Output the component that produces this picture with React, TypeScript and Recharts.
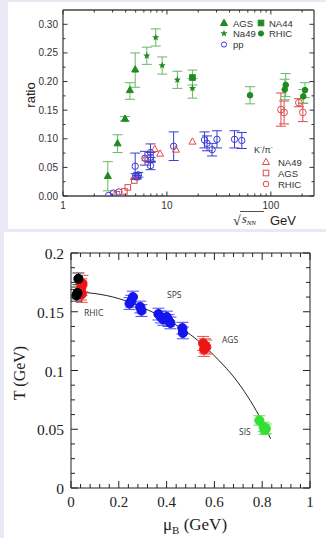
import React from 'react'
import {
  ScatterChart,
  ComposedChart,
  Scatter,
  Line,
  XAxis,
  YAxis,
  ErrorBar,
  ReferenceLine,
} from 'recharts'

const BG = '#e8e9f4'
const INK = '#333'
const SANS = '"Liberation Sans", Arial, sans-serif'
const SERIF = '"Liberation Serif", "Times New Roman", serif'

// ---------- upper panel: kaon / pion ratio vs sqrt(s_NN)
const xTicksTop = [1, 2, 3, 4, 5, 6, 7, 8, 9, 10, 20, 30, 40, 50, 60, 70, 80, 90, 100, 200]
const xMajorTop = [1, 10, 100]
const yTicksTop = [0, 0.025, 0.05, 0.075, 0.1, 0.125, 0.15, 0.175, 0.2, 0.225, 0.25, 0.275, 0.3]
const yLabelsTop = ['0.00', '0.05', '0.10', '0.15', '0.20', '0.25', '0.30']

// K+/pi+ (green)
const agsX = [2.7, 3.35, 3.95, 4.4, 4.95]
const agsY = [0.035, 0.092, 0.135, 0.185, 0.221]
const agsE = [[0.026, 0.025], [0.016, 0.015], [0.004, 0.004], [0.016, 0.013], [0.031, 0.029]]

const na49X = [6.4, 7.8, 9.0, 12.6, 17.6]
const na49Y = [0.245, 0.277, 0.228, 0.203, 0.188]
const na49E = [0.015, 0.015, 0.015, 0.015, 0.017]

const na44X = [17.6]
const na44Y = [0.207]
const na44E = [0.013]

const rhicX = [63, 136, 139, 205, 213]
const rhicY = [0.176, 0.186, 0.194, 0.174, 0.185]
const rhicE = [0.015, 0.018, 0.02, 0.012, 0.013]

// pp (blue)
const ppX = [2.75, 3.05, 3.45, 4.95, 5.0, 5.15, 5.3, 6.15, 6.95, 6.95, 6.95, 6.95, 11.6, 23, 24.3, 27.2, 30.3, 44.7, 52.5]
const ppY = [0.001, 0.005, 0.007, 0.052, 0.035, 0.033, 0.037, 0.066, 0.076, 0.068, 0.063, 0.053, 0.087, 0.098, 0.092, 0.081, 0.099, 0.099, 0.097]
const ppE = [0, 0, 0, 0.023, 0.004, 0.003, 0.004, 0.012, 0.015, 0.008, 0.004, 0.007, 0.025, 0.014, 0.013, 0.011, 0.015, 0.015, 0.014]

// K-/pi- (red)
const kmNa49X = [6.2, 7.65, 8.6, 12.2, 17.6]
const kmNa49Y = [0.066, 0.082, 0.074, 0.081, 0.095]
const kmAgsX = [3.3, 3.9, 4.2, 4.85]
const kmAgsY = [0.003, 0.008, 0.015, 0.027]
const kmRhicX = [125, 134, 186, 203]
const kmRhicY = [0.151, 0.146, 0.163, 0.146]
const kmRhicE = [0.029, 0.02, 0.007, 0.016]

// ---------- lower panel: freeze-out T vs mu_B
const xTicksBot = [0, 0.04, 0.08, 0.12, 0.16, 0.2, 0.24, 0.28, 0.32, 0.36, 0.4, 0.44, 0.48, 0.52, 0.56, 0.6, 0.64, 0.68, 0.72, 0.76, 0.8, 0.84, 0.88, 0.92, 0.96, 1]
const xLabelsBot = ['0', '0.2', '0.4', '0.6', '0.8', '1']
const yTicksBot = [0, 0.0125, 0.025, 0.0375, 0.05, 0.0625, 0.075, 0.0875, 0.1, 0.1125, 0.125, 0.1375, 0.15, 0.1625, 0.175, 0.1875, 0.2]
const yLabelsBot = ['0', '0.05', '0.1', '0.15', '0.2']

const curveMu = [0.03, 0.1, 0.2, 0.3, 0.4, 0.5, 0.56, 0.6, 0.7, 0.8, 0.835]
const curveT = [0.1668, 0.1655, 0.1612, 0.1535, 0.1435, 0.1305, 0.1205, 0.1125, 0.0895, 0.0565, 0.042]

const lhcMu = [0.031, 0.027, 0.023]
const lhcT = [0.178, 0.166, 0.164]
const rhicMu = [0.048, 0.044, 0.042, 0.045]
const rhicT = [0.174, 0.171, 0.167, 0.165]
const spsMu = [0.245, 0.252, 0.259, 0.29, 0.295, 0.366, 0.376, 0.386, 0.401, 0.408, 0.416, 0.466, 0.468]
const spsT = [0.157, 0.159, 0.1625, 0.154, 0.151, 0.148, 0.1455, 0.1435, 0.1455, 0.1425, 0.1405, 0.136, 0.132]
const agsMu = [0.553, 0.56, 0.566, 0.557]
const agsT = [0.123, 0.121, 0.12, 0.118]
const sisMu = [0.788, 0.806, 0.815, 0.81]
const sisT = [0.0575, 0.052, 0.0505, 0.0495]

const pts = (xs: number[], ys: number[], es?: (number | number[])[]) =>
  xs.map((x, i) => ({ x, y: ys[i], e: es ? es[i] : 0 }))
const ptsB = (xs: number[], ys: number[], e: number) =>
  xs.map((x, i) => ({ mu: x, t: ys[i], e }))
const curve = curveMu.map((m, i) => ({ mu: m, t: curveT[i] }))

// plot boxes (chart-local px)
const PT = { l: 63, t: 10, r: 314, b: 196 }
const PB = { l: 71, t: 21, r: 310, b: 256 }

// ---------- marker shapes
type SP = { cx?: number; cy?: number }
const triangle = (fill: string, stroke: string) => ({ cx = 0, cy = 0 }: SP) => (
  <path d={`M${cx},${cy - 3.8}L${cx + 3.5},${cy + 2.5}L${cx - 3.5},${cy + 2.5}Z`} fill={fill} stroke={stroke} strokeWidth={1} />
)
const square = (fill: string, stroke: string) => ({ cx = 0, cy = 0 }: SP) => (
  <rect x={cx - 2.8} y={cy - 2.8} width={5.6} height={5.6} fill={fill} stroke={stroke} strokeWidth={1} />
)
const circle = (fill: string, stroke: string, r: number) => ({ cx = 0, cy = 0 }: SP) => (
  <circle cx={cx} cy={cy} r={r} fill={fill} stroke={stroke} strokeWidth={1} />
)
const star = (fill: string) => ({ cx = 0, cy = 0 }: SP) => {
  let d = ''
  for (let k = 0; k < 10; k++) {
    const a = ((-90 + k * 36) * Math.PI) / 180
    const r = k % 2 === 0 ? 3.8 : 1.6
    d += (k === 0 ? 'M' : 'L') + (cx + r * Math.cos(a)).toFixed(2) + ',' + (cy + r * Math.sin(a)).toFixed(2)
  }
  return <path d={d + 'Z'} fill={fill} />
}

const GREEN = '#1f8a1f'
const GREEN_ERR = '#68b868'
const BLUE = '#3b3bd6'
const RED = '#e04a4a'

// ---------- ticks
function TopXTick(props: any) {
  const { x, y, payload } = props
  const major = xMajorTop.includes(payload.value)
  const len = major ? 4.5 : 2.5
  return (
    <g>
      <line x1={x} x2={x} y1={y} y2={y - len} stroke={INK} />
      <line x1={x} x2={x} y1={PT.t} y2={PT.t + len} stroke={INK} />
      {major && (
        <text x={x} y={y + 13} textAnchor="middle" fontSize={10} fontFamily={SANS} fill={INK}>
          {payload.value}
        </text>
      )}
    </g>
  )
}

function TopYTick(props: any) {
  const { x, y, index } = props
  const major = index % 2 === 0
  const len = major ? 4.5 : 2.5
  return (
    <g>
      <line x1={x} x2={x + len} y1={y} y2={y} stroke={INK} />
      <line x1={PT.r} x2={PT.r - len} y1={y} y2={y} stroke={INK} />
      {major && (
        <text x={x - 5} y={y + 3.5} textAnchor="end" fontSize={10} fontFamily={SANS} fill={INK}>
          {yLabelsTop[index / 2]}
        </text>
      )}
    </g>
  )
}

function BotXTick(props: any) {
  const { x, y, index } = props
  const major = index % 5 === 0
  const len = major ? 7 : 4
  return (
    <g>
      <line x1={x} x2={x} y1={y} y2={y - len} stroke="#222" />
      <line x1={x} x2={x} y1={PB.t} y2={PB.t + len} stroke="#222" />
      {major && (
        <text x={x} y={y + 19} textAnchor="middle" fontSize={15} fontFamily={SERIF} fill="#222">
          {xLabelsBot[index / 5]}
        </text>
      )}
    </g>
  )
}

function BotYTick(props: any) {
  const { x, y, index } = props
  const major = index % 4 === 0
  const len = major ? 7 : 4
  return (
    <g>
      <line x1={x} x2={x + len} y1={y} y2={y} stroke="#222" />
      <line x1={PB.r} x2={PB.r - len} y1={y} y2={y} stroke="#222" />
      {major && (
        <text x={x - 7} y={y + 6} textAnchor="end" fontSize={15.5} fontFamily={SERIF} fill="#222">
          {yLabelsBot[index / 4]}
        </text>
      )}
    </g>
  )
}

function TopChart() {
  return (
    <ScatterChart width={326} height={230} margin={{ top: PT.t, right: 326 - PT.r, bottom: 0, left: 0 }}>
      <XAxis
        dataKey="x"
        type="number"
        scale="log"
        domain={[1, 260]}
        allowDataOverflow
        ticks={xTicksTop}
        interval={0}
        tick={<TopXTick />}
        tickLine={false}
        tickSize={0}
        tickMargin={0}
        height={34}
        axisLine={{ stroke: '#444', strokeWidth: 1.3 }}
      />
      <YAxis
        dataKey="y"
        type="number"
        domain={[0, 0.325]}
        allowDataOverflow
        ticks={yTicksTop}
        interval={0}
        tick={<TopYTick />}
        tickLine={false}
        tickSize={0}
        tickMargin={0}
        width={PT.l}
        axisLine={{ stroke: '#444', strokeWidth: 1.3 }}
      />
      <ReferenceLine y={0.325} stroke="#444" strokeWidth={1.3} />
      <ReferenceLine x={260} stroke="#444" strokeWidth={1.3} />

      <Scatter data={pts(ppX, ppY, ppE)} shape={circle('none', BLUE, 3.2)} isAnimationActive={false}>
        <ErrorBar dataKey="e" direction="y" width={5} stroke={BLUE} strokeWidth={1} />
      </Scatter>
      <Scatter data={pts(kmNa49X, kmNa49Y)} shape={triangle('none', RED)} isAnimationActive={false} />
      <Scatter data={pts(kmAgsX, kmAgsY)} shape={square('none', RED)} isAnimationActive={false} />
      <Scatter data={pts(kmRhicX, kmRhicY, kmRhicE)} shape={circle('none', RED, 3.4)} isAnimationActive={false}>
        <ErrorBar dataKey="e" direction="y" width={5} stroke={RED} strokeWidth={1} />
      </Scatter>

      <Scatter data={pts(agsX, agsY, agsE)} shape={triangle(GREEN, GREEN)} isAnimationActive={false}>
        <ErrorBar dataKey="e" direction="y" width={5} stroke={GREEN_ERR} strokeWidth={1} />
      </Scatter>
      <Scatter data={pts(na49X, na49Y, na49E)} shape={star(GREEN)} isAnimationActive={false}>
        <ErrorBar dataKey="e" direction="y" width={5} stroke={GREEN_ERR} strokeWidth={1} />
      </Scatter>
      <Scatter data={pts(na44X, na44Y, na44E)} shape={square(GREEN, GREEN)} isAnimationActive={false}>
        <ErrorBar dataKey="e" direction="y" width={5} stroke={GREEN_ERR} strokeWidth={1} />
      </Scatter>
      <Scatter data={pts(rhicX, rhicY, rhicE)} shape={circle(GREEN, GREEN, 2.8)} isAnimationActive={false}>
        <ErrorBar dataKey="e" direction="y" width={5} stroke={GREEN_ERR} strokeWidth={1} />
      </Scatter>
    </ScatterChart>
  )
}

const blob = (fill: string) => ({ cx = 0, cy = 0 }: SP) => (
  <circle cx={cx} cy={cy} r={4.6} fill={fill} stroke={fill} strokeWidth={1} />
)

function BottomChart() {
  return (
    <ComposedChart width={326} height={306} data={curve} margin={{ top: PB.t, right: 326 - PB.r, bottom: 0, left: 0 }}>
      <XAxis
        dataKey="mu"
        type="number"
        domain={[0, 1]}
        allowDataOverflow
        ticks={xTicksBot}
        interval={0}
        tick={<BotXTick />}
        tickLine={false}
        tickSize={0}
        tickMargin={0}
        height={50}
        axisLine={{ stroke: '#222', strokeWidth: 1 }}
      />
      <YAxis
        dataKey="t"
        type="number"
        domain={[0, 0.2]}
        allowDataOverflow
        ticks={yTicksBot}
        interval={0}
        tick={<BotYTick />}
        tickLine={false}
        tickSize={0}
        tickMargin={0}
        width={PB.l}
        axisLine={{ stroke: '#222', strokeWidth: 1 }}
      />
      <ReferenceLine y={0.2} stroke="#222" strokeWidth={1} />
      <ReferenceLine x={1} stroke="#222" strokeWidth={1} />
      <Line dataKey="t" type="monotone" dot={false} stroke="#222" strokeWidth={1} isAnimationActive={false} />

      <Scatter data={ptsB(spsMu, spsT, 0.005)} shape={blob('#1414ee')} isAnimationActive={false}>
        <ErrorBar dataKey="e" direction="y" width={6} stroke="#4a4aee" strokeWidth={1} />
      </Scatter>
      <Scatter data={ptsB(agsMu, agsT, 0.006)} shape={blob('#ee1515')} isAnimationActive={false}>
        <ErrorBar dataKey="e" direction="y" width={6} stroke="#ee4a4a" strokeWidth={1} />
      </Scatter>
      <Scatter data={ptsB(sisMu, sisT, 0.004)} shape={blob('#33e033')} isAnimationActive={false}>
        <ErrorBar dataKey="e" direction="y" width={6} stroke="#66dd66" strokeWidth={1} />
      </Scatter>
      <Scatter data={ptsB(rhicMu, rhicT, 0.007)} shape={blob('#ee1515')} isAnimationActive={false}>
        <ErrorBar dataKey="e" direction="y" width={6} stroke="#ee4a4a" strokeWidth={1} />
      </Scatter>
      <Scatter data={ptsB(lhcMu, lhcT, 0.005)} shape={blob('#000')} isAnimationActive={false}>
        <ErrorBar dataKey="e" direction="y" width={6} stroke="#333" strokeWidth={1} />
      </Scatter>
    </ComposedChart>
  )
}

function Overlay() {
  const t = { fontFamily: SANS, fontSize: 9.5, fill: INK }
  const lbl = { fontFamily: '"Open Sans", sans-serif', fontSize: 8.5, fill: '#333' }
  return (
    <svg width={326} height={538} style={{ position: 'absolute', left: 0, top: 0, pointerEvents: 'none' }}>
      {/* upper legend */}
      {triangle(GREEN, GREEN)({ cx: 224, cy: 23 })}
      <text x={233} y={26.5} {...t}>AGS</text>
      {square(GREEN, GREEN)({ cx: 261, cy: 23 })}
      <text x={269} y={26.5} {...t}>NA44</text>
      {star(GREEN)({ cx: 224, cy: 33.5 })}
      <text x={233} y={37} {...t}>Na49</text>
      {circle(GREEN, GREEN, 2.6)({ cx: 261, cy: 33.5 })}
      <text x={269} y={37} {...t}>RHIC</text>
      {circle('none', BLUE, 2.6)({ cx: 224, cy: 44.5 })}
      <text x={233} y={48} {...t}>pp</text>

      <text x={254} y={153} fontFamily={SANS} fontSize={9} fill={INK}>
        K<tspan fontSize={6} dy={-4}>-</tspan>
        <tspan dy={4}>/π</tspan>
        <tspan fontSize={6} dy={-4}>-</tspan>
      </text>
      {triangle('none', RED)({ cx: 266, cy: 162 })}
      <text x={278} y={165.5} {...t}>NA49</text>
      {square('none', RED)({ cx: 266, cy: 173 })}
      <text x={278} y={176.5} {...t}>AGS</text>
      {circle('none', RED, 2.8)({ cx: 266, cy: 184 })}
      <text x={278} y={187.5} {...t}>RHIC</text>

      {/* upper axis titles */}
      <text x={35} y={95} transform="rotate(-90 35 95)" textAnchor="middle" fontFamily={SANS} fontSize={13} fill="#222">
        ratio
      </text>
      <text x={233} y={225} fontFamily={SERIF} fontSize={14} fill="#222">√</text>
      <line x1={240} x2={264} y1={211.5} y2={211.5} stroke="#222" strokeWidth={0.8} />
      <text x={242} y={223} fontFamily={SERIF} fontSize={12} fontStyle="italic" fill="#222">
        s<tspan fontSize={7} dy={2}>NN</tspan>
      </text>
      <text x={270} y={225} fontFamily={SANS} fontSize={13} fill="#222">GeV</text>

      {/* lower panel labels */}
      <text x={84} y={316} {...lbl}>RHIC</text>
      <text x={167} y={298} {...lbl}>SPS</text>
      <text x={222} y={343} {...lbl}>AGS</text>
      <text x={239} y={435} {...lbl}>SIS</text>

      <text x={25} y={373} transform="rotate(-90 25 373)" textAnchor="middle" fontFamily={SERIF} fontSize={16} fill="#222">
        T (GeV)
      </text>
      <text x={195} y={530} textAnchor="middle" fontFamily={SERIF} fontSize={17} fill="#222">
        μ<tspan fontSize={11} dy={4}>B</tspan>
        <tspan dy={-4}> (GeV)</tspan>
      </text>
    </svg>
  )
}

export default function App() {
  return (
    <div style={{ position: 'absolute', left: 0, top: 0, width: 326, height: 538, background: BG, overflow: 'hidden' }}>
      <div style={{ position: 'absolute', left: 8, top: 2, width: 318, height: 227, background: '#fff' }} />
      <div style={{ position: 'absolute', left: 4, top: 232, width: 322, height: 306, background: '#fff' }} />
      <div style={{ position: 'absolute', left: 0, top: 0 }}>
        <TopChart />
      </div>
      <div style={{ position: 'absolute', left: 0, top: 232 }}>
        <BottomChart />
      </div>
      <Overlay />
    </div>
  )
}
